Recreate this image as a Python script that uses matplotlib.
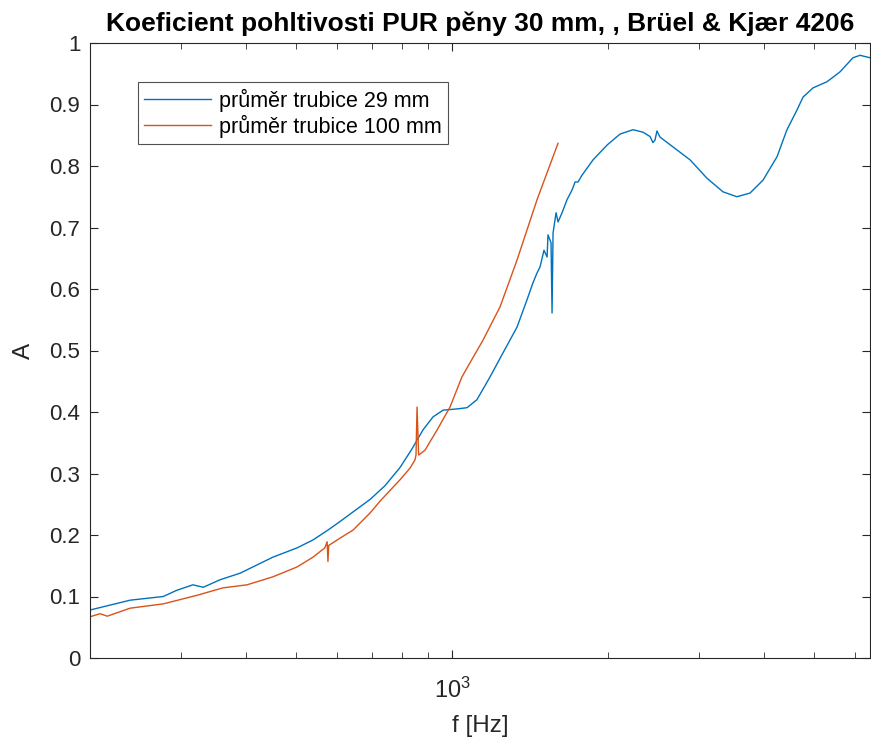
import matplotlib
matplotlib.use("Agg")
import matplotlib.pyplot as plt
from matplotlib.ticker import LogLocator, NullFormatter, FixedLocator, FixedFormatter

plt.rcParams['font.family'] = ['Liberation Sans', 'DejaVu Sans']

# trubice 29 mm
f_29 = [200, 239, 277, 294, 316, 331, 356, 390, 451, 502, 539, 576, 608, 650,
        695, 742, 794, 837, 879, 919, 961, 1022, 1069, 1117, 1184, 1254, 1335,
        1395, 1433, 1459, 1479, 1505, 1526, 1532, 1553, 1560, 1567, 1588, 1602,
        1631, 1667, 1705, 1728, 1751, 1782, 1872, 1992, 2111, 2236, 2337, 2411,
        2443, 2465, 2487, 2521, 2671, 2881, 3107, 3336, 3549, 3761, 3985, 4241,
        4433, 4634, 4761, 4977, 5296, 5610, 5944, 6133, 6412]
A_29 = [0.078, 0.094, 0.100, 0.110, 0.119, 0.115, 0.127, 0.138, 0.164, 0.179,
        0.192, 0.208, 0.222, 0.240, 0.258, 0.280, 0.310, 0.340, 0.371, 0.392,
        0.403, 0.405, 0.407, 0.420, 0.457, 0.496, 0.538, 0.582, 0.610, 0.626,
        0.636, 0.663, 0.652, 0.688, 0.675, 0.561, 0.691, 0.724, 0.709, 0.724,
        0.745, 0.761, 0.774, 0.774, 0.785, 0.810, 0.834, 0.852, 0.859, 0.855,
        0.848, 0.838, 0.842, 0.857, 0.847, 0.831, 0.810, 0.780, 0.758, 0.750,
        0.756, 0.777, 0.815, 0.859, 0.891, 0.912, 0.927, 0.937, 0.953, 0.976,
        0.980, 0.976]

# trubice 100 mm
f_100 = [200, 209, 216, 239, 277, 322, 361, 402, 451, 502, 539, 568, 574, 576,
         578, 608, 644, 695, 726, 794, 830, 848, 852, 856, 862, 887, 936, 991,
         1045, 1083, 1148, 1238, 1335, 1459, 1602]
A_100 = [0.067, 0.072, 0.068, 0.081, 0.088, 0.102, 0.114, 0.119, 0.132, 0.148,
         0.164, 0.179, 0.189, 0.157, 0.183, 0.195, 0.208, 0.236, 0.255, 0.290,
         0.309, 0.322, 0.330, 0.408, 0.330, 0.338, 0.371, 0.408, 0.457, 0.480,
         0.517, 0.571, 0.647, 0.745, 0.837]

labels = ['průměr trubice 29 mm', 'průměr trubice 100 mm']
y_ticks = [0, 0.1, 0.2, 0.3, 0.4, 0.5, 0.6, 0.7, 0.8, 0.9, 1]
y_ticklabels = ['0', '0.1', '0.2', '0.3', '0.4', '0.5', '0.6', '0.7', '0.8', '0.9', '1']

fig = plt.figure(figsize=(8.71, 7.44), dpi=100)
ax = fig.add_axes([90/871, 86/744, 780/871, 615/744])

ax.semilogx(f_29, A_29, color='#0072BD', lw=1.0, label=labels[0])
ax.semilogx(f_100, A_100, color='#D95319', lw=1.0, label=labels[1])

ax.set_xlim(200, 6412)
ax.set_ylim(0, 1)
ax.xaxis.set_major_locator(FixedLocator([1000]))
ax.xaxis.set_major_formatter(FixedFormatter([r'$\mathregular{10^3}$']))
ax.xaxis.set_minor_locator(LogLocator(base=10, subs=range(2, 10)))
ax.xaxis.set_minor_formatter(NullFormatter())
ax.set_yticks(y_ticks)
ax.set_yticklabels(y_ticklabels)

gray = '#262626'
for s in ax.spines.values():
    s.set_color(gray)
    s.set_linewidth(0.8)
ax.tick_params(which='both', direction='in', top=True, right=True, colors=gray,
               labelsize=16)
ax.tick_params(which='major', length=6)
ax.tick_params(which='minor', length=4)
ax.tick_params(axis='x', pad=14, labelsize=17)
ax.tick_params(axis='y', pad=7)

ax.set_xlabel('f [Hz]', fontsize=17.5, color=gray, labelpad=9)
ax.set_ylabel('A', fontsize=17.5, color=gray, labelpad=10)
ax.set_title('Koeficient pohltivosti PUR pěny 30 mm, , Brüel & Kjær 4206',
             fontsize=19, fontweight='bold', color='black', pad=9)

leg = ax.legend(loc='upper left', bbox_to_anchor=(48/780, 1 - 39/615),
                fontsize=15.5, frameon=True, fancybox=False, handlelength=3.1,
                handletextpad=0.35, borderpad=0.3, labelspacing=0.15,
                borderaxespad=0)
leg.get_frame().set_edgecolor(gray)
leg.get_frame().set_linewidth(0.8)

fig.savefig('out.png', dpi=100)
